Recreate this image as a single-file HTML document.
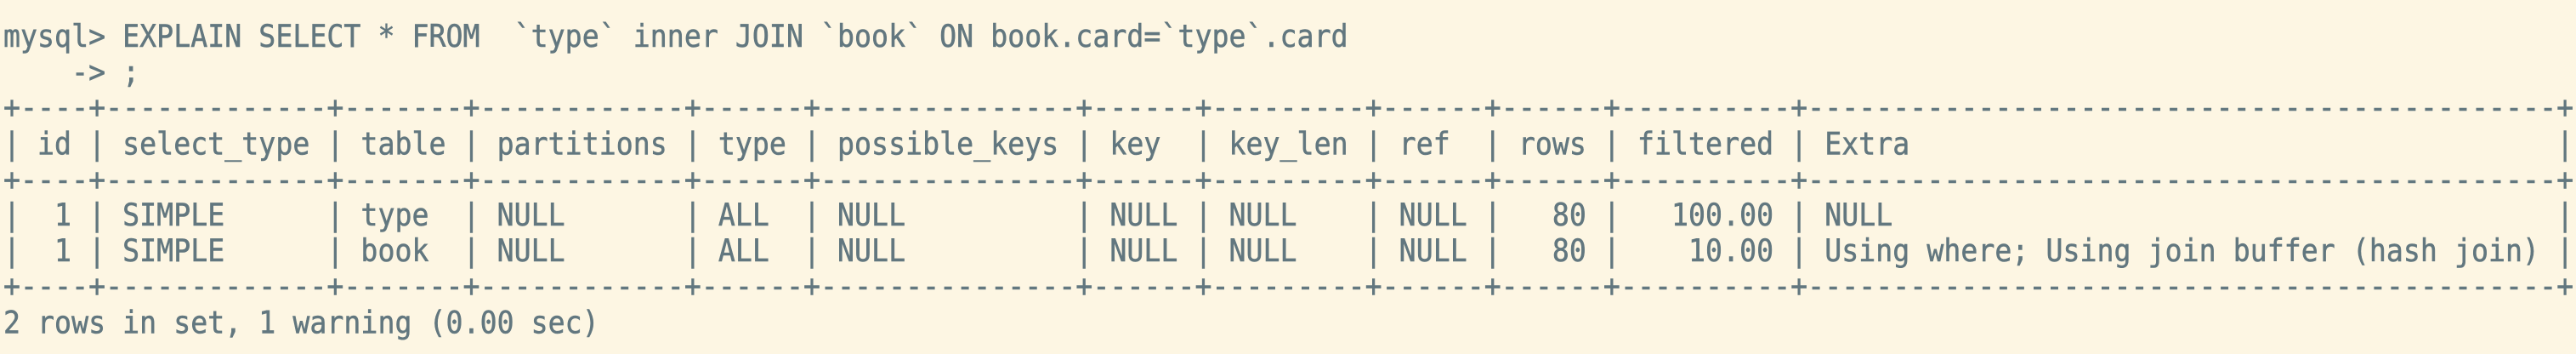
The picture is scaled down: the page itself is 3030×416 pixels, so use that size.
<!DOCTYPE html>
<html><head><meta charset="utf-8"><style>
html,body{margin:0;padding:0;background:#fdf6e3;width:3030px;height:416px;overflow:hidden}
pre{margin:0;position:absolute;left:4px;top:22px;font-family:"DejaVu Sans Mono","Liberation Mono",monospace;font-size:33.2px;letter-spacing:0.04px;line-height:38.18px;color:#62777f;transform:scaleY(1.1);transform-origin:0 0;-webkit-text-stroke:0.5px #62777f}
</style></head><body><pre>mysql&gt; EXPLAIN SELECT * FROM  `type` inner JOIN `book` ON book.card=`type`.card
    -&gt; ;
+----+-------------+-------+------------+------+---------------+------+---------+------+------+----------+--------------------------------------------+
| id | select_type | table | partitions | type | possible_keys | key  | key_len | ref  | rows | filtered | Extra                                      |
+----+-------------+-------+------------+------+---------------+------+---------+------+------+----------+--------------------------------------------+
|  1 | SIMPLE      | type  | NULL       | ALL  | NULL          | NULL | NULL    | NULL |   80 |   100.00 | NULL                                       |
|  1 | SIMPLE      | book  | NULL       | ALL  | NULL          | NULL | NULL    | NULL |   80 |    10.00 | Using where; Using join buffer (hash join) |
+----+-------------+-------+------------+------+---------------+------+---------+------+------+----------+--------------------------------------------+
2 rows in set, 1 warning (0.00 sec)</pre></body></html>
